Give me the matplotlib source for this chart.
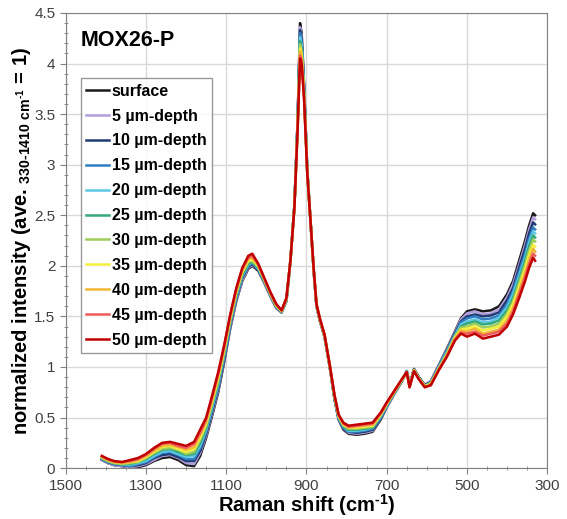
import numpy as np
import matplotlib
matplotlib.use('Agg')
from matplotlib import pyplot as plt
from matplotlib.ticker import MultipleLocator

plt.rcParams['font.family'] = ['Liberation Sans', 'DejaVu Sans']
plt.rcParams['mathtext.fontset'] = 'custom'
plt.rcParams['mathtext.rm'] = 'Liberation Sans'
plt.rcParams['mathtext.default'] = 'regular'

# Raman shift positions (cm-1)
shift = [1410, 1395, 1380, 1360, 1340, 1320, 1300, 1280, 1260, 1240, 1220, 1200, 1180, 1165, 1150,
         1135, 1120, 1105, 1090, 1075, 1060, 1045, 1035, 1020, 1005, 990, 975, 962, 950, 940,
         930, 922, 916, 912, 906, 898, 890, 882, 875, 866, 855, 842, 830, 820, 808,
         795, 775, 755, 735, 715, 700, 680, 662, 650, 643, 632, 620, 605, 590, 570,
         550, 530, 515, 500, 480, 460, 440, 420, 400, 385, 370, 355, 345, 335, 330]

surface = [.08, .05, .03, .02, .00, .01, .03, .07, .10, .11, .08, .03, .02, .12, .30,
           .52, .75, 1.05, 1.38, 1.65, 1.85, 1.97, 2.00, 1.95, 1.83, 1.70, 1.58, 1.54, 1.65, 2.05,
           2.60, 3.45, 4.40, 4.30, 3.80, 2.95, 2.45, 1.95, 1.60, 1.45, 1.30, 1.00, .68, .48, .38,
           .34, .33, .34, .36, .48, .60, .74, .86, .96, .82, .98, .90, .82, .86, 1.02,
           1.18, 1.35, 1.48, 1.55, 1.57, 1.55, 1.56, 1.60, 1.72, 1.85, 2.05, 2.25, 2.40, 2.52, 2.50]
d05 = [.08, .05, .03, .02, .01, .02, .04, .08, .12, .13, .10, .05, .04, .15, .32,
       .54, .77, 1.07, 1.39, 1.66, 1.86, 1.98, 2.01, 1.96, 1.83, 1.70, 1.58, 1.54, 1.65, 2.05,
       2.60, 3.44, 4.36, 4.27, 3.78, 2.95, 2.45, 1.95, 1.60, 1.45, 1.30, 1.00, .68, .48, .39,
       .35, .34, .35, .37, .49, .60, .74, .86, .96, .82, .98, .90, .82, .86, 1.02,
       1.17, 1.34, 1.47, 1.53, 1.55, 1.52, 1.53, 1.57, 1.69, 1.82, 2.01, 2.21, 2.36, 2.48, 2.46]
d10 = [.09, .06, .04, .03, .02, .03, .05, .10, .13, .14, .11, .07, .07, .17, .34,
       .56, .79, 1.08, 1.41, 1.68, 1.88, 1.99, 2.02, 1.96, 1.84, 1.71, 1.59, 1.54, 1.66, 2.05,
       2.60, 3.43, 4.33, 4.24, 3.77, 2.94, 2.45, 1.95, 1.60, 1.45, 1.30, 1.00, .69, .49, .39,
       .36, .35, .36, .38, .49, .61, .75, .86, .96, .82, .98, .90, .82, .85, 1.01,
       1.16, 1.33, 1.45, 1.50, 1.52, 1.50, 1.51, 1.54, 1.66, 1.78, 1.98, 2.17, 2.32, 2.43, 2.41]
d15 = [.09, .06, .04, .03, .02, .04, .06, .11, .15, .16, .13, .09, .09, .20, .36,
       .58, .81, 1.10, 1.42, 1.69, 1.89, 2.00, 2.03, 1.97, 1.84, 1.71, 1.59, 1.55, 1.66, 2.05,
       2.59, 3.42, 4.30, 4.21, 3.75, 2.94, 2.45, 1.96, 1.61, 1.46, 1.31, 1.01, .69, .50, .40,
       .36, .36, .37, .39, .50, .61, .75, .87, .96, .81, .97, .89, .81, .85, 1.00,
       1.16, 1.32, 1.44, 1.48, 1.50, 1.47, 1.48, 1.51, 1.62, 1.75, 1.94, 2.12, 2.27, 2.38, 2.36]
d20 = [.10, .07, .05, .04, .03, .05, .07, .12, .16, .17, .14, .11, .12, .22, .38,
       .60, .83, 1.12, 1.44, 1.70, 1.90, 2.01, 2.04, 1.97, 1.85, 1.72, 1.60, 1.55, 1.66, 2.05,
       2.59, 3.41, 4.26, 4.18, 3.74, 2.94, 2.45, 1.96, 1.61, 1.46, 1.31, 1.01, .70, .50, .41,
       .37, .37, .38, .40, .51, .62, .75, .87, .96, .81, .97, .89, .81, .84, 1.00,
       1.15, 1.31, 1.42, 1.45, 1.47, 1.44, 1.45, 1.49, 1.59, 1.72, 1.90, 2.08, 2.23, 2.34, 2.32]
d25 = [.10, .07, .05, .04, .04, .06, .09, .14, .18, .19, .16, .13, .14, .25, .40,
       .62, .85, 1.14, 1.45, 1.71, 1.91, 2.02, 2.04, 1.98, 1.85, 1.72, 1.60, 1.55, 1.66, 2.05,
       2.59, 3.40, 4.22, 4.15, 3.72, 2.93, 2.45, 1.96, 1.61, 1.46, 1.31, 1.01, .70, .51, .41,
       .38, .38, .39, .40, .52, .62, .75, .87, .95, .81, .97, .89, .81, .84, .99,
       1.14, 1.30, 1.40, 1.43, 1.45, 1.42, 1.43, 1.46, 1.56, 1.68, 1.86, 2.05, 2.19, 2.30, 2.28]
d30 = [.10, .07, .05, .04, .05, .06, .10, .15, .19, .20, .18, .14, .16, .28, .42,
       .64, .87, 1.15, 1.46, 1.73, 1.93, 2.04, 2.05, 1.99, 1.86, 1.72, 1.60, 1.55, 1.67, 2.05,
       2.59, 3.39, 4.19, 4.12, 3.71, 2.93, 2.45, 1.96, 1.61, 1.46, 1.31, 1.01, .70, .51, .42,
       .39, .39, .40, .41, .52, .63, .76, .87, .95, .81, .97, .89, .81, .84, .99,
       1.13, 1.30, 1.39, 1.40, 1.43, 1.39, 1.40, 1.43, 1.53, 1.65, 1.83, 2.01, 2.15, 2.26, 2.24]
d35 = [.11, .08, .06, .05, .06, .07, .11, .16, .21, .22, .19, .16, .19, .30, .44,
       .66, .89, 1.17, 1.48, 1.74, 1.94, 2.05, 2.06, 2.00, 1.86, 1.73, 1.61, 1.55, 1.67, 2.05,
       2.58, 3.38, 4.15, 4.09, 3.69, 2.93, 2.45, 1.96, 1.61, 1.46, 1.31, 1.01, .71, .52, .43,
       .40, .40, .41, .42, .53, .63, .76, .87, .95, .81, .97, .89, .81, .83, .98,
       1.12, 1.29, 1.37, 1.38, 1.40, 1.36, 1.38, 1.40, 1.50, 1.62, 1.79, 1.97, 2.11, 2.21, 2.19]
d40 = [.11, .08, .06, .05, .06, .08, .12, .17, .22, .23, .21, .18, .21, .33, .46,
       .68, .91, 1.19, 1.49, 1.75, 1.95, 2.07, 2.08, 2.01, 1.87, 1.73, 1.61, 1.56, 1.67, 2.05,
       2.58, 3.37, 4.12, 4.06, 3.68, 2.92, 2.45, 1.97, 1.62, 1.47, 1.32, 1.02, .71, .52, .44,
       .40, .41, .42, .43, .54, .64, .76, .88, .95, .80, .96, .88, .80, .83, .98,
       1.11, 1.28, 1.36, 1.35, 1.38, 1.33, 1.35, 1.37, 1.46, 1.58, 1.75, 1.93, 2.06, 2.17, 2.14]
d45 = [.12, .09, .07, .06, .07, .09, .13, .19, .24, .25, .22, .20, .24, .35, .48,
       .70, .93, 1.20, 1.51, 1.77, 1.97, 2.08, 2.10, 2.01, 1.87, 1.74, 1.62, 1.56, 1.68, 2.05,
       2.58, 3.36, 4.08, 4.03, 3.66, 2.92, 2.45, 1.97, 1.62, 1.47, 1.32, 1.02, .72, .53, .44,
       .41, .42, .43, .44, .54, .64, .77, .88, .95, .80, .96, .88, .80, .82, .97,
       1.11, 1.27, 1.34, 1.33, 1.35, 1.31, 1.33, 1.35, 1.43, 1.55, 1.72, 1.89, 2.02, 2.12, 2.10]
d50 = [.12, .09, .07, .06, .08, .10, .14, .20, .25, .26, .24, .22, .26, .38, .50,
       .72, .95, 1.22, 1.52, 1.78, 1.98, 2.10, 2.12, 2.02, 1.88, 1.74, 1.62, 1.56, 1.68, 2.05,
       2.58, 3.35, 4.05, 4.00, 3.65, 2.92, 2.45, 1.97, 1.62, 1.47, 1.32, 1.02, .72, .53, .45,
       .42, .43, .44, .45, .55, .65, .77, .88, .95, .80, .96, .88, .80, .82, .97,
       1.10, 1.26, 1.33, 1.30, 1.33, 1.28, 1.30, 1.32, 1.40, 1.52, 1.68, 1.85, 1.98, 2.08, 2.05]

labels = ['surface', '5 µm-depth', '10 µm-depth', '15 µm-depth', '20 µm-depth', '25 µm-depth',
          '30 µm-depth', '35 µm-depth', '40 µm-depth', '45 µm-depth', '50 µm-depth']
series = [surface, d05, d10, d15, d20, d25, d30, d35, d40, d45, d50]
colors = ['#1a1a1a', '#b39ddb', '#1f3b73', '#2f7fc0', '#5cc8e6', '#33a87a',
          '#9ccc5a', '#f4ee3c', '#f0b634', '#f05a5a', '#c00000']

xticks = [1500, 1300, 1100, 900, 700, 500, 300]
yticks = [0, 0.5, 1, 1.5, 2, 2.5, 3, 3.5, 4, 4.5]
yticklabels = ['0', '0.5', '1', '1.5', '2', '2.5', '3', '3.5', '4', '4.5']

fig = plt.figure(figsize=(5.67, 5.19), dpi=100)
ax = fig.add_axes([0.116, 0.098, 0.849, 0.877])

for ys, lab, col in zip(series, labels, colors):
  ax.plot(shift, ys, color=col, lw=1.8, label=lab)

ax.set_xlim(1500, 300)
ax.set_ylim(0, 4.5)
ax.set_xticks(xticks)
ax.xaxis.set_minor_locator(MultipleLocator(50))
ax.set_yticks(yticks)
ax.set_yticklabels(yticklabels)
ax.yaxis.set_minor_locator(MultipleLocator(0.1))
ax.grid(True, which='major', color='#d9d9d9', lw=1)
ax.set_axisbelow(True)
ax.tick_params(which='major', direction='out', length=4, color='#808080',
               labelsize=11, labelcolor='#404040')
ax.tick_params(which='minor', direction='inout', length=3, color='#808080')
for sp in ax.spines.values():
  sp.set_color('#808080')

ax.set_xlabel('Raman shift (cm$^{\u20101}$)', fontsize=14.5, fontweight='bold', labelpad=0)
ax.set_ylabel('normalized intensity (ave. $_{330\u20101410\\ cm^{\u20101}}$ = 1)',
              fontsize=14.5, fontweight='bold', labelpad=1)
ax.text(0.03, 0.94, 'MOX26-P', transform=ax.transAxes, fontsize=15.5,
        fontweight='bold', va='center', ha='left')

leg = ax.legend(loc='upper left', bbox_to_anchor=(0.031, 0.857), frameon=True, fancybox=False,
                edgecolor='#808080', prop={'weight': 'bold', 'size': 11.5},
                handlelength=1.4, handletextpad=0.2, labelspacing=0.62, borderpad=0.35,
                borderaxespad=0)
leg.get_frame().set_linewidth(1)
for ln in leg.get_lines():
  ln.set_linewidth(1.8)

fig.savefig('out.png', dpi=100)
